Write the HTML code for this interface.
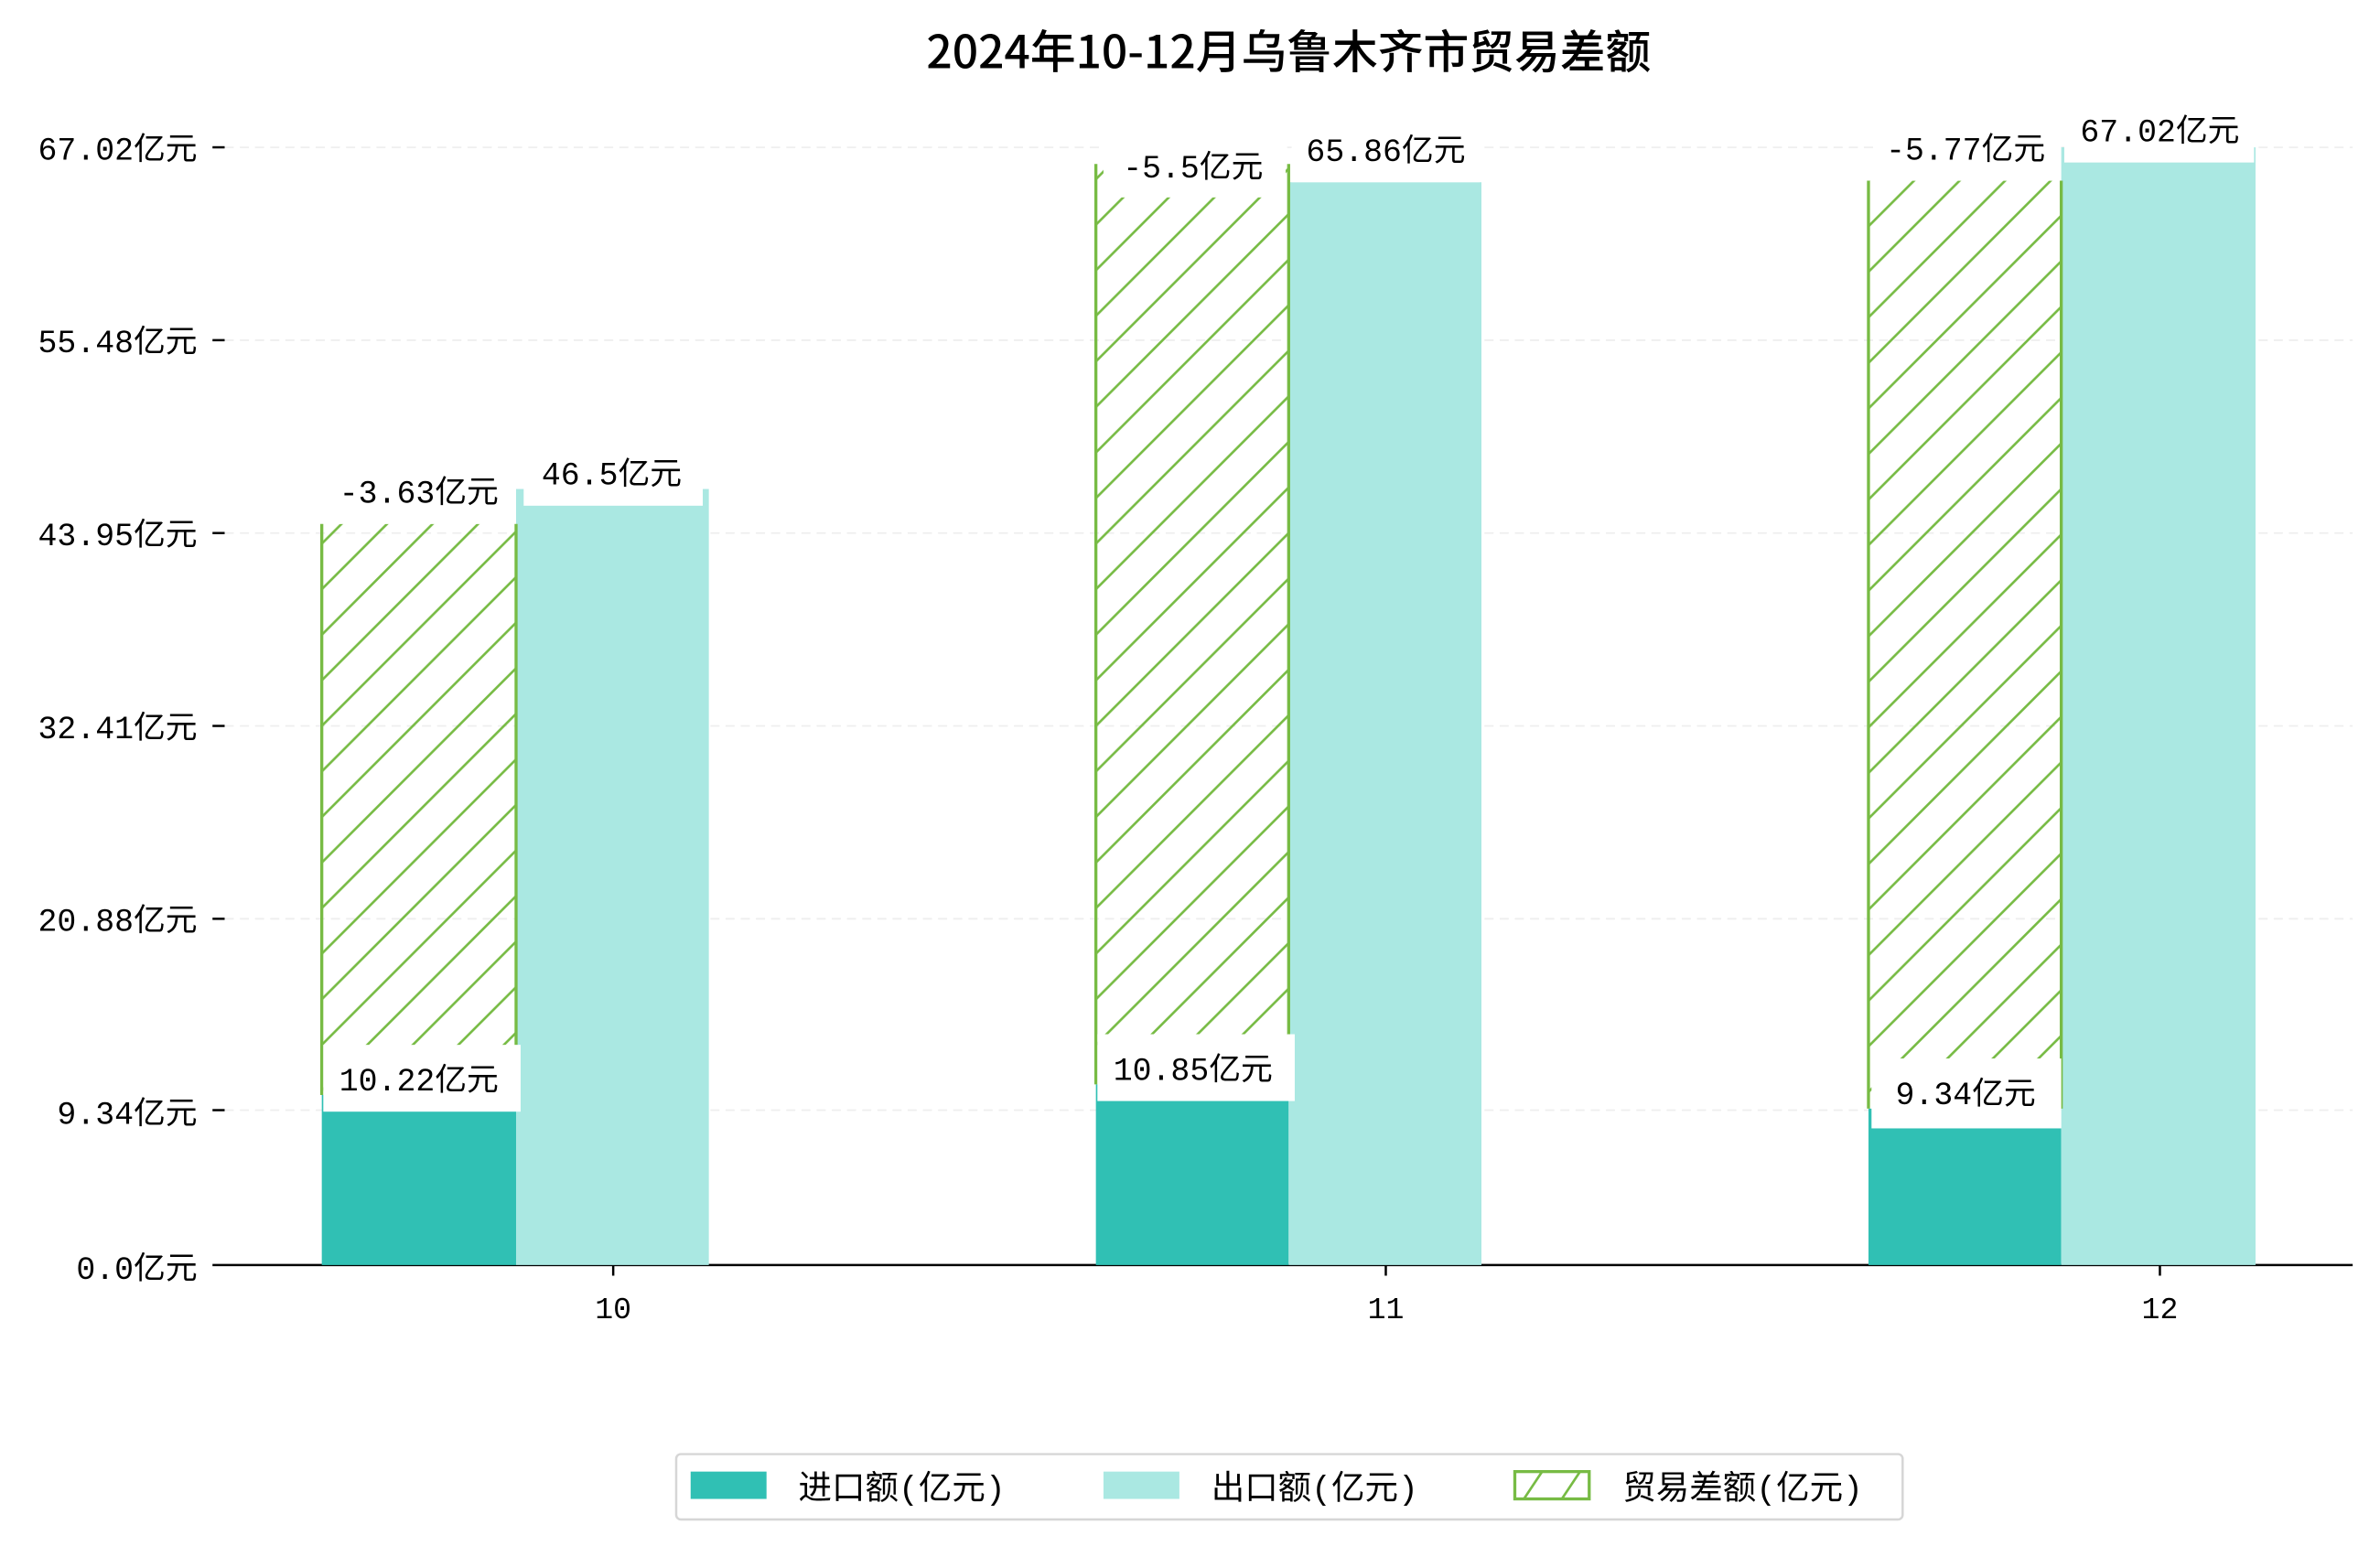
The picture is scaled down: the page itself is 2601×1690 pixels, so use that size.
<!DOCTYPE html>
<html><head><meta charset="utf-8"><style>
html,body{margin:0;padding:0;background:#fff}
svg{display:block}
text{font-family:"Liberation Mono","Noto Sans CJK SC",monospace;fill:#000}
</style></head><body>
<svg width="2601" height="1690" viewBox="0 0 1568 1018" preserveAspectRatio="none" xmlns="http://www.w3.org/2000/svg">
<defs>
<pattern id="h" patternUnits="userSpaceOnUse" width="30" height="30">
<line x1="-2" y1="32" x2="32" y2="-2" stroke="#77bb44" stroke-width="1.6"/>
<line x1="-17" y1="17" x2="17" y2="-17" stroke="#77bb44" stroke-width="1.6"/>
<line x1="13" y1="47" x2="47" y2="13" stroke="#77bb44" stroke-width="1.6"/>
</pattern>
</defs>
<rect width="1568" height="1018" fill="#fff"/>
<text x="849" y="45" text-anchor="middle" font-size="30" style="font-family:'Noto Sans CJK SC','Liberation Sans',sans-serif;font-weight:500">2024年10-12月乌鲁木齐市贸易差额</text>
<g stroke="#eee" stroke-dasharray="6,4" stroke-width="1">
<line x1="148" y1="97" x2="1550" y2="97"/><line x1="148" y1="224" x2="1550" y2="224"/>
<line x1="148" y1="351" x2="1550" y2="351"/><line x1="148" y1="478" x2="1550" y2="478"/>
<line x1="148" y1="605" x2="1550" y2="605"/><line x1="148" y1="731" x2="1550" y2="731"/>
</g>
<g stroke="#000" stroke-width="1.5">
<line x1="140" y1="97" x2="148" y2="97"/><line x1="140" y1="224" x2="148" y2="224"/>
<line x1="140" y1="351" x2="148" y2="351"/><line x1="140" y1="478" x2="148" y2="478"/>
<line x1="140" y1="605" x2="148" y2="605"/><line x1="140" y1="731" x2="148" y2="731"/>
<line x1="140" y1="833" x2="1550" y2="833"/>
<line x1="404" y1="833" x2="404" y2="840"/><line x1="913" y1="833" x2="913" y2="840"/><line x1="1423" y1="833" x2="1423" y2="840"/>
</g>
<g font-size="21" text-anchor="end">
<text x="130" y="105">67.02亿元</text><text x="130" y="232">55.48亿元</text>
<text x="130" y="359">43.95亿元</text><text x="130" y="486">32.41亿元</text>
<text x="130" y="613">20.88亿元</text><text x="130" y="740">9.34亿元</text>
<text x="130" y="842">0.0亿元</text>
</g>
<g font-size="20" text-anchor="middle">
<text x="404" y="868">10</text><text x="913" y="868">11</text><text x="1423" y="868">12</text>
</g>
<rect x="212" y="721" width="128" height="112" fill="#30c0b4"/>
<rect x="340" y="322" width="127" height="511" fill="#aae8e2"/>
<rect x="212" y="345" width="128" height="376" fill="url(#h)"/>
<line x1="212" y1="345" x2="212" y2="721" stroke="#77bb44" stroke-width="2"/>
<line x1="340" y1="345" x2="340" y2="721" stroke="#77bb44" stroke-width="2"/>

<rect x="722" y="714" width="127" height="119" fill="#30c0b4"/>
<rect x="849" y="120" width="127" height="713" fill="#aae8e2"/>
<rect x="722" y="108" width="127" height="606" fill="url(#h)"/>
<line x1="722" y1="108" x2="722" y2="714" stroke="#77bb44" stroke-width="2"/>
<line x1="849" y1="108" x2="849" y2="714" stroke="#77bb44" stroke-width="2"/>

<rect x="1231" y="730" width="127" height="103" fill="#30c0b4"/>
<rect x="1358" y="97" width="128" height="736" fill="#aae8e2"/>
<rect x="1231" y="119" width="127" height="611" fill="url(#h)"/>
<line x1="1231" y1="119" x2="1231" y2="730" stroke="#77bb44" stroke-width="2"/>
<line x1="1358" y1="119" x2="1358" y2="730" stroke="#77bb44" stroke-width="2"/>
<g fill="#fff">
<rect x="213" y="688" width="130" height="44"/><rect x="215" y="305" width="122" height="40"/><rect x="345" y="293" width="118" height="40"/>
<rect x="723" y="681" width="130" height="44"/><rect x="727" y="88" width="120" height="42"/><rect x="851" y="82" width="124" height="38"/>
<rect x="1233" y="697" width="125" height="46"/><rect x="1236" y="78" width="120" height="41"/><rect x="1360" y="65" width="125" height="42"/>
</g>
<g font-size="21" text-anchor="middle">
<text x="276" y="718">10.22亿元</text><text x="276" y="331">-3.63亿元</text><text x="403" y="319">46.5亿元</text>
<text x="786" y="711">10.85亿元</text><text x="786" y="117">-5.5亿元</text><text x="913" y="106">65.86亿元</text>
<text x="1295" y="727">9.34亿元</text><text x="1295" y="105">-5.77亿元</text><text x="1423" y="93">67.02亿元</text>
</g>
<rect x="445.5" y="957.5" width="808" height="43" rx="3" fill="#fff" stroke="#d6d6d6" stroke-width="1.5"/>
<rect x="455" y="969" width="50" height="18" fill="#30c0b4"/>
<rect x="727" y="969" width="50" height="18" fill="#aae8e2"/>
<rect x="998" y="969" width="49" height="18" fill="#fff" stroke="#77bb44" stroke-width="2"/>
<line x1="1004" y1="987" x2="1016" y2="969" stroke="#77bb44" stroke-width="1.6"/>
<line x1="1029" y1="987" x2="1041" y2="969" stroke="#77bb44" stroke-width="1.6"/>
<g font-size="22">
<text x="526" y="987">进口额(亿元)</text>
<text x="798" y="987">出口额(亿元)</text>
<text x="1069" y="987">贸易差额(亿元)</text>
</g>
</svg>
</body></html>
